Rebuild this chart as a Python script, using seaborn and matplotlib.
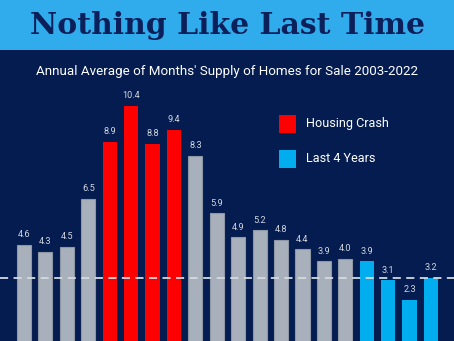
import matplotlib
matplotlib.use("Agg")
import matplotlib.pyplot as plt
import seaborn as sns
from matplotlib.patches import Rectangle

years = [str(y) for y in range(2003, 2023)]
values = [4.6, 4.3, 4.5, 6.5, 8.9, 10.4, 8.8, 9.4, 8.3, 5.9,
          4.9, 5.2, 4.8, 4.4, 3.9, 4.0, 3.9, 3.1, 2.3, 3.2]
groups = ["Normal"] * 4 + ["Housing Crash"] * 4 + ["Normal"] * 8 + ["Last 4 Years"] * 4
legend_labels = ["Housing Crash", "Last 4 Years"]
title = "Nothing Like Last Time"
subtitle = "Annual Average of Months' Supply of Homes for Sale 2003-2022"
reference_level = 3.2

NAVY = "#041c4f"
BANNER = "#30acec"
GRAY = "#a8b0bb"
RED = "#ff0000"
BLUE = "#00aeef"
group_colors = {"Normal": GRAY, "Housing Crash": RED, "Last 4 Years": BLUE}
colors = [group_colors[g] for g in groups]

sns.set_theme(style="white")
plt.rcParams["font.family"] = ["Roboto", "DejaVu Sans"]

W, H = 454, 341
fig = plt.figure(figsize=(W / 100, H / 100), dpi=100)
fig.patch.set_facecolor(NAVY)
ax = fig.add_axes([0, 0, 1, 1])
ax.set_facecolor(NAVY)

sns.barplot(x=years, y=values, hue=years, palette=colors, legend=False,
            width=0.66, saturation=1, ax=ax)
for p, g in zip(ax.patches, groups):
    if g == "Normal":
        p.set_edgecolor("#8d97a6")
        p.set_linewidth(0.8)
    else:
        p.set_linewidth(0)

for c in ax.containers:
    ax.bar_label(c, fmt="%.1f", padding=4, color="#d2d7df", fontsize=6.6)

ax.axhline(reference_level, color="#d5d9e0", lw=1.3, ls=(0, (4.5, 3)), zorder=3)

# pixel mapping
step = 21.42
x0 = 24.0
ax.set_xlim(-x0 / step, (W - x0) / step)
ppu = 23.93
base = 354.6
ax.set_ylim((base - H) / ppu, base / ppu)
ax.axis("off")

# banner
fig.patches.append(Rectangle((0, 1 - 50 / H), 1, 50 / H, transform=fig.transFigure,
                             facecolor=BANNER, edgecolor="none", zorder=0))
fig.text(0.5, 1 - 25 / H, title, ha="center", va="center", color="#0b1f5a",
         fontsize=21.5, fontweight="bold", family=["DejaVu Serif"])
fig.text(0.5, 1 - 72 / H, subtitle, ha="center", va="center", color="white",
         fontsize=9.6)

# legend
for i, (lab, col) in enumerate(zip(legend_labels, [RED, BLUE])):
    ytop = 115 + i * 35
    fig.patches.append(Rectangle((279 / W, 1 - (ytop + 18) / H), 17 / W, 18 / H,
                                 transform=fig.transFigure, facecolor=col,
                                 edgecolor="none"))
    fig.text(306 / W, 1 - (ytop + 9) / H, lab, ha="left", va="center",
             color="white", fontsize=9.1)

fig.savefig("out.png", dpi=100, facecolor=NAVY)
